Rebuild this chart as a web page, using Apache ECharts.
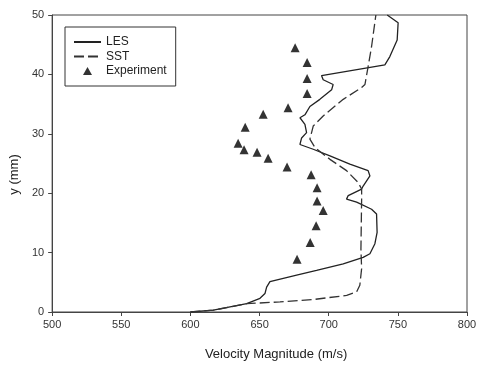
<!DOCTYPE html>
<html>
<head>
<meta charset="utf-8">
<script src="https://cdn.jsdelivr.net/npm/echarts@6/dist/echarts.min.js"></script>
<style>
  html, body { margin: 0; padding: 0; background: #fff; }
  #chart { width: 484px; height: 366px; }
</style>
</head>
<body>
<div id="chart"></div>
<script>
// LES profile [velocity m/s, y mm]
var lesVel = [600.0, 616.6, 640.7, 650.3, 653.9, 655.1, 657.5, 676.8, 691.2, 710.5, 724.9, 729.8, 733.4, 735.0,
  734.6, 731.0, 720.2, 712.9, 714.1, 723.8, 724.9, 729.8, 728.5, 715.3, 700.9, 688.8, 679.2, 680.4, 684.0,
  682.8, 679.2, 682.8, 686.4, 693.6, 702.1, 703.2, 696.0, 694.8, 740.6, 744.2, 749.5, 750.2, 742.3]
var lesY = [0, 0.3, 1.4, 2.3, 3.1, 4.2, 5.1, 6.2, 7.0, 8.1, 9.2, 9.8, 11.5, 13.4,
  16.5, 17.3, 18.5, 19.0, 19.6, 20.7, 21.2, 22.9, 23.8, 24.9, 26.3, 27.4, 28.2, 29.3, 30.2,
  31.6, 32.7, 33.2, 34.6, 35.8, 37.4, 38.3, 39.1, 39.8, 41.6, 43.0, 45.8, 48.7, 50.0]

// SST profile
var sstVel = [600.0, 616.6, 640.7, 664.8, 688.8, 713.0, 720.2, 722.5, 723.8, 723.3, 723.8, 723.8, 721.3,
  712.9, 700.9, 690.0, 686.4, 688.8, 696.0, 710.5, 723.8, 726.2, 728.5, 731.0, 734.1]
var sstY = [0, 0.3, 1.4, 1.7, 2.1, 2.8, 3.4, 4.5, 7.3, 10.6, 19.0, 20.7, 21.8,
  23.8, 25.7, 27.7, 29.1, 31.3, 33.0, 35.8, 37.8, 38.3, 41.3, 44.7, 50.0]

// experiment points
var expVel = [675.7, 684.4, 684.4, 684.4, 670.6, 652.6, 639.6, 634.5, 638.8, 648.2, 656.2, 669.9,
  687.3, 691.6, 691.6, 696.0, 690.9, 686.6, 677.1]
var expY = [44.5, 42.0, 39.3, 36.8, 34.4, 33.3, 31.1, 28.4, 27.3, 26.9, 25.9, 24.4,
  23.1, 20.9, 18.7, 17.1, 14.5, 11.7, 8.9]

function pairs(xs, ys) {
  var out = []
  for (var i = 0; i < xs.length; i++) {
    out.push([xs[i], ys[i]])
  }
  return out
}

var font = 'Liberation Sans, Arial, sans-serif'
var myChart = echarts.init(document.getElementById('chart'))
var option = {
  animation: false,
  backgroundColor: '#fff',
  grid: {
    left: 52,
    right: 17,
    top: 15,
    bottom: 52,
    show: true,
    borderColor: '#444',
    borderWidth: 1
  },
  legend: {
    orient: 'vertical',
    left: 65,
    top: 27,
    padding: [9, 9, 9, 8],
    itemWidth: 27,
    itemHeight: 12,
    itemGap: 2.5,
    backgroundColor: '#fff',
    borderColor: '#333',
    borderWidth: 1,
    borderRadius: 0,
    textStyle: { fontFamily: font, fontSize: 12, color: '#222' },
    data: [
      { name: 'LES', itemStyle: { opacity: 0 } },
      { name: 'SST', itemStyle: { opacity: 0 } },
      // triangle with a blank margin so the legend mark stays small
      { name: 'Experiment', icon: 'path://M0,0L0.01,0L0,0.01Z M6,2L10.5,10L1.5,10Z M12,12L11.99,12L12,11.99Z' }
    ]
  },
  xAxis: {
    type: 'value',
    min: 500,
    max: 800,
    interval: 50,
    name: 'Velocity Magnitude (m/s)',
    nameLocation: 'middle',
    nameGap: 36,
    nameTextStyle: { fontFamily: font, fontSize: 13, color: '#222', padding: [0, 0, 0, 33] },
    axisLine: { lineStyle: { color: '#444', width: 1 } },
    axisTick: { lineStyle: { color: '#444' }, length: 4 },
    axisLabel: { fontFamily: font, fontSize: 11, color: '#333', margin: 7 },
    splitLine: { show: false }
  },
  yAxis: {
    type: 'value',
    min: 0,
    max: 50,
    interval: 10,
    name: 'y (mm)',
    nameLocation: 'middle',
    nameGap: 30,
    nameTextStyle: { fontFamily: font, fontSize: 13, color: '#222', padding: [0, 22, 0, 0] },
    axisLine: { show: true, lineStyle: { color: '#444', width: 1 } },
    axisTick: { show: true, lineStyle: { color: '#444' }, length: 4 },
    axisLabel: { fontFamily: font, fontSize: 11, color: '#333', margin: 8 },
    splitLine: { show: false }
  },
  series: [
    {
      name: 'LES',
      type: 'line',
      symbol: 'none',
      lineStyle: { color: '#222', width: 1.3 },
      itemStyle: { color: '#222' },
      data: pairs(lesVel, lesY)
    },
    {
      name: 'SST',
      type: 'line',
      symbol: 'none',
      lineStyle: { color: '#333', width: 1.3, type: [10, 4] },
      itemStyle: { color: '#333' },
      data: pairs(sstVel, sstY)
    },
    {
      name: 'Experiment',
      type: 'scatter',
      symbol: 'triangle',
      symbolSize: 9,
      symbolKeepAspect: true,
      itemStyle: { color: '#000' },
      data: pairs(expVel, expY)
    }
  ]
}
myChart.setOption(option)
</script>
</body>
</html>
